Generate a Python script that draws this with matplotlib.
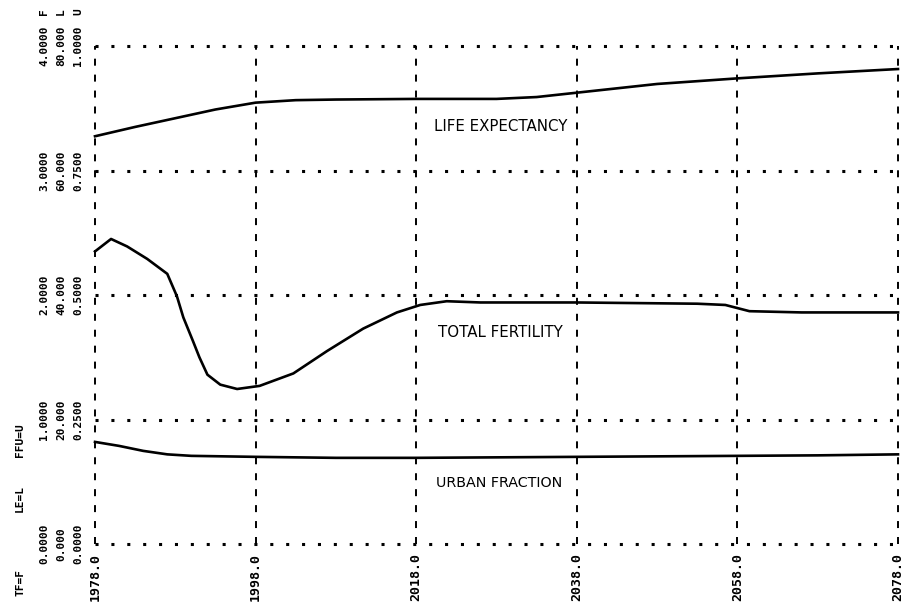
import matplotlib
matplotlib.use("Agg")
import matplotlib.pyplot as plt
from matplotlib.transforms import blended_transform_factory

# ---- data ----
x_ticks = [1978, 1998, 2018, 2038, 2058, 2078]
x_tick_labels = ["1978.0", "1998.0", "2018.0", "2038.0", "2058.0", "2078.0"]

# scales: F = total fertility (0-4), L = life expectancy (0-80), U = urban fraction (0-1)
f_ticks = [0, 1, 2, 3, 4]
l_ticks = [0, 20, 40, 60, 80]
u_ticks = [0, 0.25, 0.5, 0.75, 1.0]

le_years = [1978, 1983, 1988, 1993, 1998, 2003, 2008, 2018, 2028, 2033, 2038, 2048, 2058, 2068, 2078]
le_vals = [65.5, 67.0, 68.4, 69.8, 70.9, 71.3, 71.4, 71.5, 71.5, 71.8, 72.5, 73.9, 74.8, 75.6, 76.3]

tf_years = [1978, 1980, 1982, 1984.5, 1987, 1988.2, 1989, 1990.2, 1991, 1992, 1993.6, 1995.7,
            1998.5, 2002.7, 2006.9, 2011.4, 2015.6, 2018.5, 2021.8, 2026, 2038, 2053,
            2056.5, 2059.5, 2066, 2078]
tf_vals = [2.35, 2.45, 2.39, 2.29, 2.17, 1.99, 1.82, 1.63, 1.50, 1.36, 1.28, 1.245,
           1.27, 1.37, 1.55, 1.73, 1.86, 1.92, 1.95, 1.94, 1.94, 1.93,
           1.92, 1.87, 1.86, 1.86]

uf_years = [1978, 1981, 1984, 1987, 1990, 1998, 2008, 2018, 2028, 2038, 2048, 2058, 2068, 2078]
uf_vals = [0.205, 0.197, 0.187, 0.180, 0.177, 0.175, 0.173, 0.173, 0.174, 0.175, 0.176, 0.177, 0.178, 0.180]

# ---- figure ----
W, H = 909, 611
fig = plt.figure(figsize=(W / 100, H / 100), dpi=100)
x0, x1 = 95, 898
y_top, y_bot = 46, 544
ax = fig.add_axes([x0 / W, (H - y_bot) / H, (x1 - x0) / W, (y_bot - y_top) / H])
ax.set_xlim(1978, 2078)
ax.set_ylim(0, 4)
ax.axis("off")

ink = "black"
# grid: vertical dashed, horizontal dotted
for xv in x_ticks:
    ax.plot([xv, xv], [0, 4], color=ink, lw=1.4, dashes=(3.6, 4.6), solid_capstyle="butt",
            clip_on=False)
for yv in f_ticks:
    ax.plot([1978, 2078], [yv, yv], color=ink, lw=2.2, dashes=(1.0, 4.2),
            solid_capstyle="butt", clip_on=False)

# curves (all mapped to the F scale 0-4)
ax.plot(le_years, [v / 20 for v in le_vals], color=ink, lw=1.9, clip_on=False)
ax.plot(tf_years, tf_vals, color=ink, lw=1.9, clip_on=False)
ax.plot(uf_years, [v * 4 for v in uf_vals], color=ink, lw=1.9, clip_on=False)

mono = dict(family="DejaVu Sans Mono", fontsize=8, weight="bold", color=ink)

# y tick labels: three columns, rotated
tr = blended_transform_factory(fig.transFigure, ax.transData)
cols = [44 / W, 61 / W, 78 / W]
for f, l, u in zip(f_ticks, l_ticks, u_ticks):
    for cx, s in zip(cols, [f"{f:.4f}", f"{l:.3f}", f"{u:.4f}"]):
        ax.text(cx, f, s, transform=tr, rotation=90, ha="center", va="center", **mono)

# scale letters at top
for cx, s in zip(cols, ["F", "L", "U"]):
    fig.text(cx, 1 - 12 / H, s, rotation=90, ha="center", va="center", **mono)

# variable legend at bottom left
for yy, s in [(440, "FFU=U"), (498, "LE=L"), (583, "TF=F")]:
    fig.text(20 / W, 1 - yy / H, s, rotation=90, ha="center", va="center", **mono)

# x tick labels
mono_x = dict(mono, fontsize=9.5)
trx = blended_transform_factory(ax.transData, fig.transFigure)
for xv, s in zip(x_ticks, x_tick_labels):
    ax.text(xv, 1 - 553 / H, s, transform=trx, rotation=90, ha="center", va="top", **mono_x)

# hand-written curve labels
ax.text(2020.2, 3.35, "LIFE EXPECTANCY", ha="left", va="center",
        family="DejaVu Sans", fontsize=10.8, color=ink)
ax.text(2020.7, 1.695, "TOTAL FERTILITY", ha="left", va="center",
        family="DejaVu Sans", fontsize=10.8, color=ink)
ax.text(2020.5, 0.49, "URBAN FRACTION", ha="left", va="center",
        family="DejaVu Sans", fontsize=10.3, color=ink)

fig.savefig("out.png", dpi=100, facecolor="white")
